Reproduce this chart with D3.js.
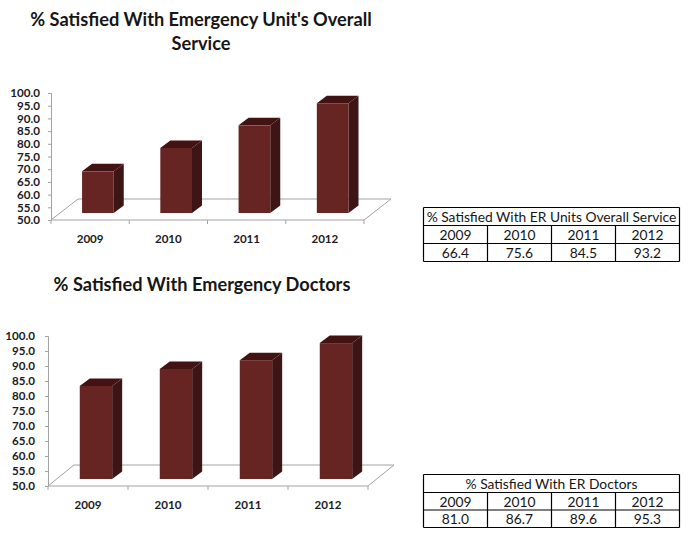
<!DOCTYPE html>
<html><head>
<meta charset="utf-8">
<title>% Satisfied</title>
<script src="https://cdn.jsdelivr.net/npm/d3@7"></script>
<style>
  html, body { margin: 0; padding: 0; background: #fff; }
  svg { display: block; }
  text { font-family: Lato, "Noto Sans", sans-serif; fill: #161616; }
  .title { font-weight: 700; font-size: 18.2px; text-anchor: middle; }
  .axis text { font-weight: 700; font-size: 11.6px; fill: #1b1b24; }
  .axis path, .axis line { stroke: #a3a3a3; }
  .cell { font-size: 13.8px; text-anchor: middle; dominant-baseline: central; }
</style>
</head>
<body>
<svg id="chart" width="689" height="536"></svg>

<script>
// values
const years = ["2009", "2010", "2011", "2012"];
const overallService = [66.4, 75.6, 84.5, 93.2];
const doctors = [81.0, 86.7, 89.6, 95.3];
const yTicks = [50, 55, 60, 65, 70, 75, 80, 85, 90, 95, 100];

const overallTitle = ["% Satisfied With Emergency Unit's Overall", "Service"];
const doctorsTitle = ["% Satisfied With Emergency Doctors"];
const overallTableTitle = "% Satisfied With ER Units Overall Service";
const doctorsTableTitle = "% Satisfied With ER Doctors";

const svg = d3.select("#chart");

function drawChart(values, box) {
  let g = svg.append("g");

  let x = d3.scaleBand().domain(years).range([box.left, box.right]);
  let y = d3.scaleLinear().domain([50, 100]).range([box.bottom, box.top]);

  // floor of the 3d box
  g.append("path")
    .attr("d", d3.line()([
      [box.left, box.bottom],
      [box.left + box.floorX, box.bottom - box.floorY],
      [box.right + box.floorX, box.bottom - box.floorY],
      [box.right, box.bottom]
    ]))
    .attr("fill", "#fff")
    .attr("stroke", "#a3a3a3");

  // axes
  g.append("g").attr("class", "axis")
    .attr("transform", "translate(0," + box.bottom + ")")
    .call(d3.axisBottom(x).tickSize(0).tickPadding(15))
    .call(s => s.select(".domain").attr("d", "M" + box.left + ",0H" + box.right));
  g.append("g").attr("class", "axis")
    .selectAll("line.xtick").data(d3.range(years.length + 1)).enter()
    .append("line")
      .attr("x1", i => box.left + i * x.step())
      .attr("x2", i => box.left + i * x.step())
      .attr("y1", box.bottom)
      .attr("y2", box.bottom + 4);
  g.append("g").attr("class", "axis")
    .attr("transform", "translate(" + box.left + ",0)")
    .call(d3.axisLeft(y).tickValues(yTicks).tickFormat(d3.format(".1f")).tickSize(3).tickPadding(box.labelPad));

  // bars: front face sits forward of the axis wall, base raised by barLift
  let barH = v => y(v) - box.barLift;
  let barLeft = d => x(d) + x.step() * 0.397;
  let barW = x.step() * 0.405;
  let bars = g.selectAll("g.bar").data(years).enter().append("g").attr("class", "bar");

  bars.append("path") // side
    .attr("fill", "#3d1514")
    .attr("d", (d, i) => {
      let r = barLeft(d) + barW;
      return d3.line()([
        [r, barH(values[i])], [r + 10, barH(values[i]) - 7.5],
        [r + 10, y(50) - box.barLift - 7.5], [r, y(50) - box.barLift]
      ]) + "Z";
    });
  bars.append("path") // top
    .attr("fill", "#421312")
    .attr("d", (d, i) => {
      let l = barLeft(d), t = barH(values[i]);
      return d3.line()([
        [l, t], [l + 10, t - 7.5], [l + barW + 10, t - 7.5], [l + barW, t]
      ]) + "Z";
    });
  bars.append("rect") // front
    .attr("fill", "#662423")
    .attr("x", barLeft)
    .attr("width", barW)
    .attr("y", (d, i) => barH(values[i]))
    .attr("height", (d, i) => y(50) - y(values[i]));
}

function drawTitle(lines, cx, firstY) {
  svg.selectAll(null).data(lines).enter().append("text")
    .attr("class", "title")
    .attr("x", cx)
    .attr("y", (d, i) => firstY + i * 24)
    .text(d => d);
}

function drawTable(title, values, t) {
  let g = svg.append("g");
  let col = d3.scaleBand().domain(years).range([t.left, t.right]);
  let rows = [t.y0, t.y1, t.y2, t.y3];

  rows.forEach(r => {
    g.append("line").attr("x1", t.left).attr("x2", t.right).attr("y1", r).attr("y2", r)
      .attr("stroke", "#000").attr("stroke-width", 1.2);
  });
  [t.left, t.right].forEach(c => {
    g.append("line").attr("x1", c).attr("x2", c).attr("y1", t.y0).attr("y2", t.y3)
      .attr("stroke", "#000").attr("stroke-width", 1.2);
  });
  years.slice(1).forEach(yr => {
    g.append("line").attr("x1", col(yr)).attr("x2", col(yr)).attr("y1", t.y1).attr("y2", t.y3)
      .attr("stroke", "#000").attr("stroke-width", 1.2);
  });

  g.append("text").attr("class", "cell")
    .attr("x", (t.left + t.right) / 2).attr("y", (t.y0 + t.y1) / 2).text(title);
  years.forEach((yr, i) => {
    g.append("text").attr("class", "cell")
      .attr("x", col(yr) + col.step() / 2).attr("y", (t.y1 + t.y2) / 2).text(yr);
    g.append("text").attr("class", "cell")
      .attr("x", col(yr) + col.step() / 2).attr("y", (t.y2 + t.y3) / 2).text(values[i].toFixed(1));
  });
}

drawTitle(overallTitle, 201, 26);
drawChart(overallService, { left: 51, right: 364, top: 93, bottom: 220, floorX: 27, floorY: 21, barLift: 7, labelPad: 8 });
drawTable(overallTableTitle, overallService, { left: 423.5, right: 679.5, y0: 207.5, y1: 225.5, y2: 243.5, y3: 261.5 });

drawTitle(doctorsTitle, 202, 291);
drawChart(doctors, { left: 48, right: 368, top: 336, bottom: 486, floorX: 26, floorY: 21, barLift: 7, labelPad: 10 });
drawTable(doctorsTableTitle, doctors, { left: 423.5, right: 679.5, y0: 474.5, y1: 492.5, y2: 510, y3: 527.5 });
</script>
</body>
</html>
